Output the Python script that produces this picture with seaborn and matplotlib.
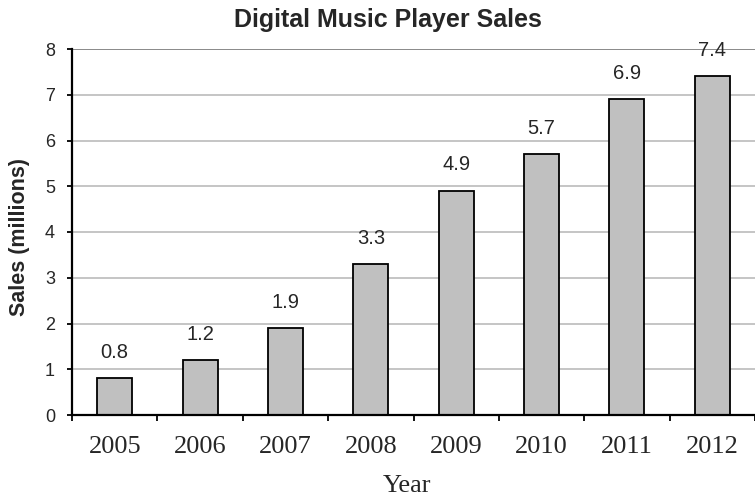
import matplotlib
matplotlib.use("Agg")
import matplotlib.pyplot as plt
import seaborn as sns
import pandas as pd

years = ["2005", "2006", "2007", "2008", "2009", "2010", "2011", "2012"]
sales = [0.8, 1.2, 1.9, 3.3, 4.9, 5.7, 6.9, 7.4]
yticks = [0, 1, 2, 3, 4, 5, 6, 7, 8]

df = pd.DataFrame({"Year": years, "Sales": sales})

sns.set_theme(style="white")
plt.rcParams['font.family'] = ['DejaVu Sans']

fig = plt.figure(figsize=(7.55, 4.96), dpi=100)
ax = fig.add_axes([72/755, 81/496, (755-72)/755, (415-49)/496])

sns.barplot(data=df, x="Year", y="Sales", color="#C0C0C0", edgecolor="black",
            linewidth=1.3, width=0.41, saturation=1, ax=ax, zorder=3)

ax.set_ylim(0, 8)
ax.set_xlim(-0.5, len(years) - 0.5)
ax.set_yticks(yticks)
ax.set_yticklabels([str(t) for t in yticks], fontsize=13, family="Liberation Sans")
for t in yticks[1:-1]:
    ax.axhline(t, color="#C0C0C0", lw=1.3, zorder=1)
ax.axhline(8, color="#808080", lw=1.3, zorder=1)

# x ticks at category boundaries
ax.set_xticks([i - 0.5 for i in range(len(years) + 1)], minor=False)
ax.set_xticklabels([""] * (len(years) + 1))
ax.set_xticks(range(len(years)), minor=True)
ax.set_xticklabels(years, minor=True, fontsize=19, family="Liberation Serif")
ax.tick_params(axis="x", which="minor", length=0, pad=15)
ax.tick_params(axis="x", which="major", length=4.5, width=1.3, direction="out", color="black", bottom=True)
ax.tick_params(axis="y", length=3.8, width=1.3, direction="out", color="black", left=True, pad=8.5)

for s in ["top", "right"]:
    ax.spines[s].set_visible(False)
for s in ["left", "bottom"]:
    ax.spines[s].set_color("black")
    ax.spines[s].set_linewidth(1.6)
    ax.spines[s].set_zorder(4)

for i, v in enumerate(sales):
    ax.annotate(f"{v}", (i, v), xytext=(0, 18.7), textcoords="offset points",
                ha="center", va="center", fontsize=14.5, family="Liberation Sans")

ax.set_xlabel("")
ax.set_ylabel("")
fig.text(407/755, 1 - 486/496, "Year", ha="center", va="center",
         fontsize=19, family="Liberation Serif")
fig.text(20/755, 1 - 237/496, "Sales (millions)", ha="center", va="center", rotation=90,
         fontsize=15.5, fontweight="bold", family="Liberation Sans")
fig.text(388/755, 1 - 20/496, "Digital Music Player Sales", ha="center", va="center",
         fontsize=18, fontweight="bold", family="Liberation Sans")

fig.savefig("out.png", dpi=100)
